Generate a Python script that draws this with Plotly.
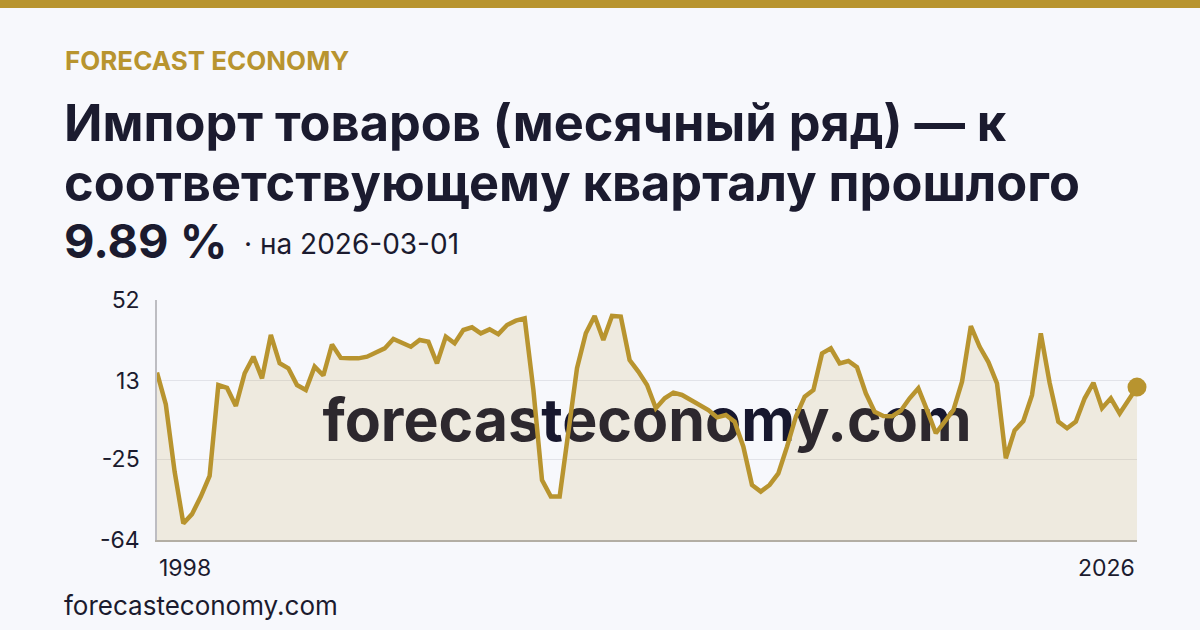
import pandas as pd
import plotly.graph_objects as go

# quarterly points, 1998-03 .. 2026-03
dates = pd.date_range("1998-03-01", periods=113, freq="3MS")
values = [
    16.9, 1.5, -31, -56, -51.5, -43, -33, 10.9, 9.5, 0.8,
    16.6, 24.6, 14.1, 35.1, 21.4, 19, 10.9, 8.5, 19.8, 15.5,
    30.5, 24, 23.8, 23.8, 24.6, 26.5, 28.6, 33.2, 31.5, 29.4,
    32.7, 31.8, 21.4, 34.3, 31.1, 37.5, 38.8, 35.9, 37.8, 35.5,
    39.9, 42, 43.1, 8.5, -35, -43, -43, -12.4, 19, 35.9,
    44.3, 32.7, 44.3, 44, 23, 17.4, 10.9, -0.3, 4.5, 7.2,
    6.1, 3.7, 1.3, -1.2, -4.7, -3.6, -6.8, -18.9, -37.4, -40.6,
    -37.4, -31.8, -18.9, -4.4, 5.3, 8.5, 26.2, 28.6, 21.4, 22.5,
    19.5, 6.9, -2, -4.1, -4.2, -1.5, 4.5, 9.3, -1.2, -12.4,
    -6.8, -1.2, 12.5, 39.4, 29.4, 22, 11.7, -24.5, -11, -6.5,
    6, 35.9, 12, -6.8, -10, -6.8, 4.5, 12, -0.3, 4.5,
    -2.8, 3.7, 9.89,
]
y_ticks = [52, 13, -25, -64]
y_tick_labels = ["52", "13", "-25", "-64"]
x_labels = ["1998", "2026"]

kicker = "FORECAST ECONOMY"
title_lines = ["Импорт товаров (месячный ряд) — к", "соответствующему кварталу прошлого"]
last_value = "9.89 %"
last_date = "· на 2026-03-01"
site = "forecasteconomy.com"

GOLD = "#B8942F"
INK = "#1B1B2F"
BG = "#F7F8FC"

W, H = 1200, 630
L, R, T, B = 157, 63, 300, 90
PW, PH = W - L - R, H - T - B


def px_x(x):
    return (x - L) / PW


def px_y(y):
    return (H - B - y) / PH


y_min, y_max = min(y_ticks), max(y_ticks)

fig = go.Figure()

# watermark first so the fill and line sit over it
fig.add_trace(go.Scatter(
    x=[dates[len(dates) // 2]], y=[(y_min + y_max) / 2 - 3],
    mode="text", text=[site], cliponaxis=False, hoverinfo="skip",
    textfont=dict(family="Inter", size=59, color="#17172E", weight=700),
    showlegend=False,
))
fig.add_trace(go.Scatter(
    x=dates, y=[y_min] * len(dates), mode="lines",
    line=dict(width=0), hoverinfo="skip", showlegend=False,
))
fig.add_trace(go.Scatter(
    x=dates, y=values, mode="lines", fill="tonexty",
    fillcolor="rgba(184,148,47,0.14)",
    line=dict(color=GOLD, width=4.5), showlegend=False,
))
fig.add_trace(go.Scatter(
    x=[dates[-1]], y=[values[-1]], mode="markers", cliponaxis=False,
    marker=dict(color=GOLD, size=19), showlegend=False,
))

fig.update_xaxes(
    range=[dates[0], dates[-1]], showgrid=False, showticklabels=False,
    showline=True, linecolor="#B3AEA4", linewidth=2, zeroline=False,
)
fig.update_yaxes(
    range=[y_min, y_max], tickvals=y_ticks, ticktext=y_tick_labels,
    showgrid=True, gridcolor="#E2E3E9", gridwidth=1.2, zeroline=False,
    showline=True, linecolor="#BDBDC2", linewidth=1.5,
    tickfont=dict(family="Inter", size=23, color=INK),
    ticklabelstandoff=11,
)

ann = []
ann.append(dict(x=px_x(63), y=px_y(60), text=f"<b>{kicker}</b>",
                font=dict(family="Inter", size=26, color=GOLD)))
ann.append(dict(x=px_x(62), y=px_y(122), text=f"<b>{title_lines[0]}</b>",
                font=dict(family="Inter", size=50.5, color=INK)))
ann.append(dict(x=px_x(62), y=px_y(182), text=f"<b>{title_lines[1]}</b>",
                font=dict(family="Inter", size=50.5, color=INK)))
ann.append(dict(x=px_x(62), y=px_y(240), text=f"<b>{last_value}</b>",
                font=dict(family="Inter", size=47, color=INK)))
ann.append(dict(x=px_x(242), y=px_y(244), text=last_date,
                font=dict(family="Inter", size=28, color=INK)))
ann.append(dict(x=px_x(62), y=px_y(605), text=site,
                font=dict(family="Inter", size=26, color=INK)))
for a in ann:
    a.update(xref="paper", yref="paper", xanchor="left", yanchor="middle",
             showarrow=False)

ann.append(dict(x=dates[0], y=px_y(568), xref="x", yref="paper", text=x_labels[0],
                xanchor="left", yanchor="middle", showarrow=False,
                font=dict(family="Inter", size=23, color=INK)))
ann.append(dict(x=dates[-1], y=px_y(568), xref="x", yref="paper", text=x_labels[1],
                xanchor="right", yanchor="middle", showarrow=False,
                font=dict(family="Inter", size=23, color=INK)))

fig.update_layout(
    width=W, height=H,
    margin=dict(l=L, r=R, t=T, b=B),
    paper_bgcolor=BG, plot_bgcolor=BG,
    annotations=ann,
    shapes=[dict(type="rect", xref="paper", yref="paper",
                 x0=px_x(0), x1=px_x(W), y0=px_y(8), y1=px_y(0),
                 fillcolor=GOLD, line=dict(width=0), layer="above")],
    hovermode=False,
)

# drop the browser's default page margin so the figure sits at 0,0
fig.write_html("out.html", config={"displayModeBar": False},
               post_script="document.body.style.margin='0';")
